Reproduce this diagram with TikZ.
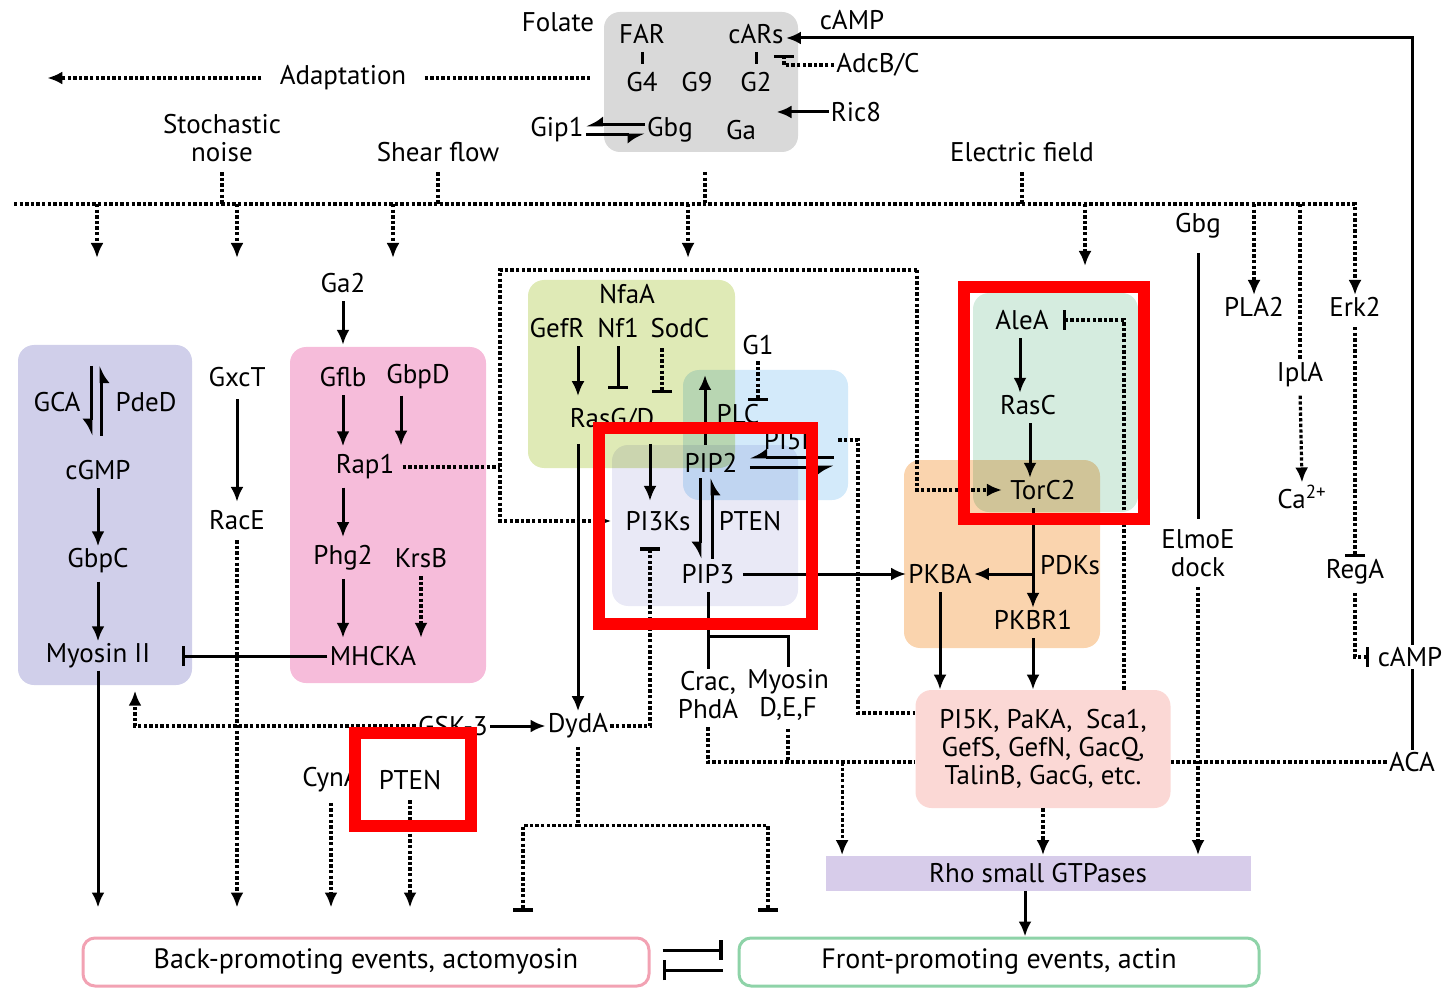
\documentclass[tikz,border=0pt]{standalone}
\usepackage{fontspec}
\setmainfont{PT Sans}
\usetikzlibrary{arrows.meta,positioning,calc}
\definecolor{greybox}{HTML}{D9D9D9}
\definecolor{purplebox}{HTML}{D0CFEA}
\definecolor{pinkbox}{HTML}{F6BCDA}
\definecolor{greenbox}{HTML}{DFEAB6}
\definecolor{bluebox}{HTML}{D3EAFA}
\definecolor{lavbox}{HTML}{E9E9F6}
\definecolor{orangebox}{HTML}{FAD4AE}
\definecolor{tealbox}{HTML}{D5ECDF}
\definecolor{rosebox}{HTML}{FBD8D5}
\definecolor{rhobox}{HTML}{D7CCEA}
\definecolor{frontline}{HTML}{8ED3A8}
\definecolor{backline}{HTML}{F2A2B3}
\definecolor{hlred}{HTML}{FF0000}

\begin{document}
\begin{tikzpicture}[x=0.5pt,y=-0.5pt,>={Latex[length=7.5pt,width=6.5pt]},
  every node/.style={inner sep=1pt,font=\fontsize{13.5}{14}\selectfont},
  ln/.style={line width=1.5pt},
  ar/.style={ln,->},
  dt/.style={line width=1.6pt,dash pattern=on 1.7pt off 1.1pt},
  dar/.style={dt,->},
  inh/.style={ln,-{Bar[width=10pt,line width=1.7pt]}},
  dinh/.style={dt,-{Bar[width=10pt,line width=1.7pt]}},
  hp/.style={ln,-{Latex[harpoon,swap,length=7pt,width=9pt]}},
  tob/.style={shorten >=14.5pt},
  panel/.style={rounded corners=8pt},
  hl/.style={draw=hlred,line width=6pt}]
\useasboundingbox (0,0) rectangle (1445,989);

% panels
\begin{scope}[blend mode=multiply]
\fill[greybox,panel] (604,12) rectangle (798,152);
\fill[purplebox,panel] (18,345) rectangle (192,685);
\fill[pinkbox,panel] (290,347) rectangle (486,683);
\fill[greenbox,panel] (528,280) rectangle (735,468);
\fill[bluebox,panel] (683,370) rectangle (848,500);
\fill[lavbox,panel] (612,445) rectangle (798,606);
\fill[orangebox,panel] (904,460) rectangle (1100,648);
\fill[tealbox,panel] (973,293) rectangle (1138,512);
\end{scope}

% receptors and inputs
\node (folate) at (558,22) {Folate};
\node (far) at (642,34) {FAR};
\node (cars) at (756,34) {cARs};
\node (campt) at (852,20) {cAMP};
\node (gfour) at (642,82) {G4};
\node (gnine) at (697,82) {G9};
\node (gtwo) at (756,82) {G2};
\node (adcb) at (878,65) {AdcB/C};
\node (ric) at (856,112) {Ric8};
\node (gip) at (557,130) {Gip1};
\node (gbg) at (670,130) {Gbg};
\node (ga) at (741,130) {Ga};
\node (adapt) at (343,78) {Adaptation};
\node[align=center] (noise) at (222,138) {Stochastic\\noise};
\node (shear) at (438,152) {Shear flow};
\node (efield) at (1022,152) {Electric field};
\coordinate (bus) at (14,204);
\coordinate (gb) at (705,152);

% back side
\node (gca) at (57,402) {GCA};
\node (pded) at (146,402) {PdeD};
\node (cgmp) at (98,470) {cGMP};
\node (gbpc) at (98,561) {GbpC};
\node (myo) at (98,656) {Myosin II};
\node (gxct) at (237,377) {GxcT};
\node (race) at (237,520) {RacE};
\node (gatwo) at (343,283) {Ga2};
\node (gflb) at (343,377) {Gflb};
\node (gbpd) at (418,377) {GbpD};
\node (rap) at (365,467) {Rap1};
\node (phg) at (343,558) {Phg2};
\node (krsb) at (421,558) {KrsB};
\node (mhcka) at (373,656) {MHCKA};
\node (gsk) at (453,726) {GSK-3};
\node (dyda) at (578,726) {DydA};
\node (cyn) at (331,780) {CynA};
\node (ptenb) at (410,780) {PTEN};

% front side
\node (nfaa) at (627,294) {NfaA};
\node (gefr) at (557,328) {GefR};
\node (nfone) at (618,328) {Nf1};
\node (sodc) at (680,328) {SodC};
\node (gone) at (758,345) {G1};
\node (rasgd) at (612,420) {RasG/D};
\node (plc) at (738,414) {PLC};
\node (pif) at (791,440) {PI5K};
\node (pipt) at (711,463) {PIP2};
\node (pik) at (658,521) {PI3Ks};
\node (pten) at (750,521) {PTEN};
\node (pipth) at (708,574) {PIP3};
\node[align=center] (crac) at (708,695) {Crac,\\PhdA};
\node[align=center] (myod) at (788,695) {Myosin\\D,E,F};
\node (alea) at (1022,320) {AleA};
\node (rasc) at (1028,405) {RasC};
\node (torc) at (1043,490) {TorC2};
\node (pkba) at (940,574) {PKBA};
\node (pdks) at (1070,565) {PDKs};
\node (pkbr) at (1033,620) {PKBR1};
\node (gbgr) at (1198,226) {Gbg};
\node (pla) at (1254,307) {PLA2};
\node (erk) at (1355,307) {Erk2};
\node (ipla) at (1300,375) {IplA};
\node (ca) at (1302,497) {Ca\textsuperscript{2+}};
\node[align=center] (elmo) at (1198,553) {ElmoE\\dock};
\node (rega) at (1355,572) {RegA};
\node (camp) at (1410,657) {cAMP};
\node (aca) at (1412,762) {ACA};
\node[fill=rosebox,rounded corners=8pt,minimum width=127.5pt,minimum height=59pt,align=center] (effect) at (1043,749) {PI5K, PaKA,\enspace Sca1,\\GefS, GefN, GacQ,\\TalinB, GacG, etc.};
\node[fill=rhobox,minimum width=212.5pt,minimum height=17.5pt] (rho) at (1038,873) {Rho small GTPases};
\node[draw=backline,line width=1.5pt,rounded corners=6pt,minimum width=283pt,minimum height=24pt,font=\fontsize{14}{15}\selectfont] (back) at (366,962) {Back-promoting events, actomyosin};
\node[draw=frontline,line width=1.5pt,rounded corners=6pt,minimum width=260pt,minimum height=24pt,font=\fontsize{14}{15}\selectfont] (front) at (999,962) {Front-promoting events, actin};

% top
\draw[ln,shorten <=3pt,shorten >=3pt] (far.south) -- (gfour.north);
\draw[ln,shorten <=3pt,shorten >=3pt] (cars.south) -- (gtwo.north);
\draw[dinh] (adcb.west) -- ++(-50,0) -- ++(0,-10);
\draw[ar] (ric.west) -- ++(-52,0);
\draw[ar] (aca.north |- camp.north) |- ([yshift=-2pt]cars.east);
\draw[ln] (aca.north |- camp.south) -- (aca.north);
\draw[hp] ([yshift=2.5pt]gbg.west) -- ([yshift=2.5pt]gip.east);
\draw[hp] ([yshift=-2.5pt]gip.east) -- ([yshift=-2.5pt]gbg.west);
\draw[dt] ([xshift=8pt]adapt.east) -- ++(166,0);
\draw[dar] ([xshift=-8pt]adapt.west) -- ++(-214,0);
\draw[dt,shorten <=4pt] (noise.south) -- (noise.south |- bus);
\draw[dt,shorten <=4pt] (shear.south) -- (shear.south |- bus);
\draw[dt] ([yshift=-10pt]gb) -- (gb |- bus);
\draw[dt,shorten <=4pt] (efield.south) -- (efield.south |- bus);
\draw[dar] (bus) -| (erk.north);
\foreach \x in {97,237,393,688} \draw[dar] (\x,204) -- (\x,258);
\draw[dar] (1085,204) -- (1085,266);
\draw[dar] (pla.north |- bus) -- (pla.north);
\draw[dt] (ipla.north |- bus) -- (ipla.north);
\draw[dar,shorten <=3pt] (ipla.south) -- (ca.north);

% back side links
\draw[hp] ($(cgmp.north)+(-7,-92)$) -- ($(cgmp.north)+(-7,-22)$);
\draw[hp] ($(cgmp.north)+(3,-22)$) -- ($(cgmp.north)+(3,-92)$);
\draw[ar,shorten <=3pt] (cgmp.south) -- (gbpc.north);
\draw[ar,shorten <=3pt] (gbpc.south) -- (myo.north);
\draw[ar,tob] (myo.south) -- (myo.south |- back.north);
\draw[ar,shorten <=5pt,shorten >=3pt] (gxct.south) -- (race.north);
\draw[dar,tob,shorten <=4pt] (race.south) -- (race.south |- back.north);
\draw[inh] (mhcka.west) -- ($(myo.east)+(29,0)$);
\draw[dar] (gsk.west) -| ($(myo.south)+(37,20)$);
\draw[ar] (gsk.east) -- (dyda.west);
\draw[ar] ($(rasgd.south)+(-34,10)$) -- (dyda.north);
\draw[dinh] (dyda.east) -| ($(pik.south)+(-8,14)$);
\coordinate (dsplit) at ($(dyda.south)+(0,85)$);
\draw[dt,shorten <=3pt] (dyda.south) -- (dsplit);
\draw[dinh] (dsplit) -| ($(dsplit)+(-55,86)$);
\draw[dinh] (dsplit) -| ($(dsplit)+(190,86)$);
\draw[dar,tob,shorten <=4pt] (cyn.south) -- (cyn.south |- back.north);
\draw[dar,tob,shorten <=4pt] (ptenb.south) -- (ptenb.south |- back.north);
\draw[ar,shorten <=3pt,shorten >=10pt] (gatwo.south) -- (gflb.north);
\draw[ar,shorten <=3pt,shorten >=3pt] (gflb.south) -- (gflb.south |- rap.north);
\draw[ar] ($(gbpd.south)+(-17,4)$) -- ++(0,50);
\draw[ar,shorten <=3pt,shorten >=3pt] (phg.north |- rap.south) -- (phg.north);
\draw[ar,shorten <=3pt,shorten >=3pt] (phg.south) -- (phg.south |- mhcka.north);
\draw[dar,shorten <=3pt,shorten >=3pt] (krsb.south) -- (krsb.south |- mhcka.north);
\coordinate (bignw) at (500,270);
\coordinate (bigne) at (917,270);
\draw[dt,shorten <=3pt] (rap.east) -- (rap.east -| bignw);
\draw[dar,shorten >=6pt] (bigne) -- (bignw) |- (pik.west);
\draw[dar,shorten >=3pt] (bigne) |- (torc.west);

% front side links
\draw[ar] ($(gefr.south)+(21,6)$) -- ++(0,50);
\draw[inh,shorten <=3pt,shorten >=8.5pt] (nfone.south) -- (nfone.south |- rasgd.north);
\draw[dinh] ($(sodc.south)+(-18,8)$) -- ++(0,45);
\draw[dinh] ($(gone.south)+(0,4)$) -- ++(0,40);
\draw[ar] ($(rasgd.south)+(38,10)$) -- ($(pik.north)+(-8,-8)$);
\draw[ar] ($(pipt.north)+(-6,-6)$) -- ++(0,-70);
\draw[hp] ($(pipt.east)+(94,-6)$) -- ($(pipt.east)+(10,-6)$);
\draw[hp] ($(pipt.east)+(10,4)$) -- ($(pipt.east)+(94,4)$);
\coordinate (pfc) at (858,713);
\draw[dt] ([xshift=9pt]pif.east) -| (pfc) -- (pfc -| effect.west);
\draw[hp] ($(pipt.south)+(-11,3)$) -- ($(pipth.north)+(-8,-3)$);
\draw[hp] ($(pipth.north)+(4,-3)$) -- ($(pipt.south)+(1,3)$);
\draw[ar,shorten <=3pt] (pipth.east) -- (pkba.west);
\draw[ln,shorten <=3pt] (pipth.south) -- (crac.north);
\draw[ln] ($(pipth.south)+(0,50)$) -| (myod.north);
\draw[dt,shorten <=3pt] (crac.south) |- (effect.west |- aca);
\draw[dt,shorten <=3pt] (myod.south) -- (myod.south |- aca);
\draw[dt] (aca.west) -- (effect.east |- aca);
\draw[dar] ($(rho.north west)+(17,-93)$) -- ($(rho.north west)+(17,0)$);
\draw[dar] (effect.south) -- (effect.south |- rho.north);
\draw[ar] ($(rho.south)+(-13,0)$) -- ($(front.north)+(26,0)$);
\draw[inh] ($(back.east)+(12,-12)$) -- ($(front.west)+(-15,-12)$);
\draw[inh] ($(front.west)+(-15,8)$) -- ($(back.east)+(12,8)$);
\draw[ar,shorten <=3pt] ($(alea.south)+(-2,0)$) -- ($(rasc.north)+(-8,0)$);
\draw[ar,shorten <=3pt] ($(rasc.south)+(2,0)$) -- ($(torc.north)+(-13,0)$);
\draw[ar,shorten <=3pt] ($(torc.south)+(-10,0)$) -- (pkbr.north);
\draw[ar] (pkbr.north |- pkba.east) -- (pkba.east);
\draw[ar,shorten <=3pt] (pkba.south) -- (pkba.south |- effect.north);
\draw[ar,shorten <=3pt] (pkbr.south) -- (pkbr.south |- effect.north);
\draw[dinh,shorten >=6pt] ($(effect.north)+(81,0)$) |- (alea.east);
\draw[ln,shorten <=6pt,shorten >=4pt] (gbgr.south) -- (elmo.north);
\draw[dar,shorten <=4pt] (elmo.south) -- (elmo.south |- rho.north);
\draw[dinh,shorten <=4pt] (erk.south) -- (rega.north);
\draw[dinh,shorten >=3pt] ($(rega.south)+(0,6)$) |- (camp.west);

% highlight frames
\draw[hl] (599,428) rectangle (812,624);
\draw[hl] (964,287) rectangle (1144,519);
\draw[hl] (355,733) rectangle (471,826);
\end{tikzpicture}
\end{document}
